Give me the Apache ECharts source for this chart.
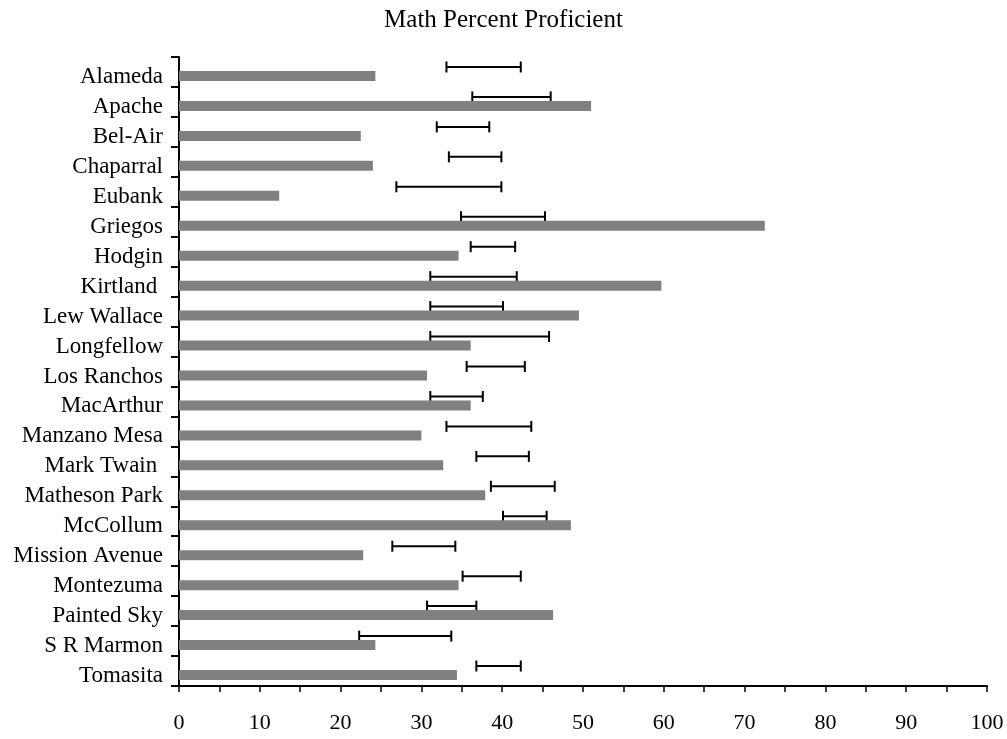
<!DOCTYPE html>
<html>
<head>
<meta charset="utf-8">
<script src="https://cdn.jsdelivr.net/npm/echarts@6/dist/echarts.min.js"></script>
<style>html,body{margin:0;padding:0;background:#fff;}#chart{width:1007px;height:739px;}</style>
</head>
<body>
<div id="chart"></div>
<script>
const schools = ["Alameda","Apache","Bel-Air","Chaparral","Eubank","Griegos","Hodgin","Kirtland ","Lew Wallace","Longfellow","Los Ranchos","MacArthur","Manzano Mesa","Mark Twain ","Matheson Park","McCollum","Mission Avenue","Montezuma","Painted Sky","S R Marmon","Tomasita"];
const proficient = [24.3,51.0,22.5,24.0,12.4,72.5,34.6,59.7,49.5,36.1,30.7,36.1,30.0,32.7,37.9,48.5,22.8,34.6,46.3,24.3,34.4];
const rangeLow = [33.1,36.3,31.9,33.4,26.9,34.9,36.1,31.1,31.1,31.1,35.6,31.1,33.1,36.8,38.6,40.1,26.4,35.1,30.7,22.3,36.8];
const rangeHigh = [42.3,46.0,38.4,39.9,39.9,45.3,41.6,41.8,40.1,45.8,42.8,37.6,43.6,43.3,46.5,45.5,34.2,42.3,36.8,33.7,42.3];
const xTicks = [0,10,20,30,40,50,60,70,80,90,100];

const FONT = "'Liberation Serif', 'Times New Roman', serif";
const chart = echarts.init(document.getElementById('chart'));
const rangeData = schools.map((s, i) => [rangeLow[i], rangeHigh[i], i]);

chart.setOption({
  backgroundColor: '#fff',
  animation: false,
  title: {
    text: 'Math Percent Proficient',
    left: 'center', top: 3,
    textStyle: { fontFamily: FONT, fontSize: 25, fontWeight: 'normal', color: '#000' }
  },
  grid: { left: 179, right: 20, top: 57, bottom: 53, containLabel: false },
  xAxis: {
    type: 'value', min: 0, max: 100, interval: 5,
    splitLine: { show: false },
    axisLine: { show: true, lineStyle: { color: '#000', width: 2 } },
    axisTick: { show: true, length: 6, lineStyle: { color: '#000', width: 1.5 } },
    axisLabel: {
      margin: 26, fontFamily: FONT, fontSize: 22, color: '#000',
      formatter: v => xTicks.indexOf(v) >= 0 ? String(v) : ''
    }
  },
  yAxis: {
    type: 'category', data: schools, inverse: true,
    axisLine: { show: true, lineStyle: { color: '#000', width: 2 } },
    axisTick: { show: true, length: 8, alignWithLabel: false, lineStyle: { color: '#000', width: 2 } },
    axisLabel: {
      margin: 16, color: '#000',
      formatter: v => '{n|' + v + '}',
      rich: { n: { fontFamily: FONT, fontSize: 23, color: '#000', padding: [10, 0, 0, 0] } }
    }
  },
  series: [
    { type: 'bar', name: 'spacer', data: schools.map(() => null), barWidth: 8, barGap: 0, silent: true },
    { type: 'bar', name: 'Proficient', data: proficient, barWidth: 10, barGap: 0,
      itemStyle: { color: '#808080' } },
    {
      type: 'custom', name: 'Range', data: rangeData,
      encode: { x: [0, 1], y: 2 },
      renderItem: function (params, api) {
        const a = api.coord([api.value(0), api.value(2)]);
        const b = api.coord([api.value(1), api.value(2)]);
        const y = a[1] - 5;
        const h = 5.5;
        const st = { stroke: '#000', lineWidth: 2 };
        return {
          type: 'group',
          children: [
            { type: 'line', shape: { x1: a[0], y1: y, x2: b[0], y2: y }, style: st },
            { type: 'line', shape: { x1: a[0], y1: y - h, x2: a[0], y2: y + h }, style: st },
            { type: 'line', shape: { x1: b[0], y1: y - h, x2: b[0], y2: y + h }, style: st }
          ]
        };
      }
    }
  ]
});
</script>
</body>
</html>
